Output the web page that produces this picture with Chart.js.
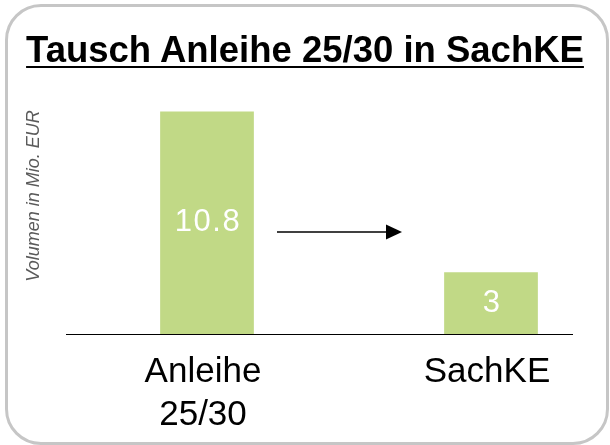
<!DOCTYPE html>
<html lang="de">
<head>
<meta charset="utf-8">
<title>Tausch Anleihe 25/30 in SachKE</title>
<script src="https://cdn.jsdelivr.net/npm/chart.js@4/dist/chart.umd.min.js"></script>
<style>
    html, body {
        margin: 0;
        padding: 0;
        background: #ffffff;
    }
    body {
        position: relative;
        width: 610px;
        height: 445px;
        overflow: hidden;
        font-family: "Liberation Sans", Arial, sans-serif;
    }
    .frame {
        position: absolute;
        left: 5px;
        top: 4px;
        width: 604px;
        height: 441px;
        box-sizing: border-box;
        border: 3px solid #c6c6c6;
        border-radius: 36px;
    }
    .chart-title {
        position: absolute;
        left: 0;
        top: 32px;
        width: 610px;
        text-align: center;
        font-size: 36.5px;
        line-height: 36px;
        font-weight: bold;
        color: #000000;
        text-decoration: underline;
        text-decoration-thickness: 2px;
        text-underline-offset: 4px;
        white-space: nowrap;
    }
    #volumeChart {
        position: absolute;
        left: 0;
        top: 0;
    }
</style>
</head>
<body>
<div class="frame"></div>
<canvas id="volumeChart" width="610" height="445"></canvas>
<div class="chart-title">Tausch Anleihe 25/30 in SachKE</div>

<script>
// ============================================
// Data
// ============================================
var categories = [['Anleihe', '25/30'], 'SachKE'];
var volumes = [10.8, 3];
var axisTitle = 'Volumen in Mio. EUR';

var barColor = '#c1d986';

// ============================================
// Plugins: value labels, baseline, arrow
// ============================================
var valueLabels = {
    id: 'valueLabels',
    afterDatasetsDraw: function(chart) {
        var ctx = chart.ctx;
        var meta = chart.getDatasetMeta(0);
        ctx.save();
        ctx.fillStyle = '#ffffff';
        ctx.font = '31px "Liberation Sans", Arial, sans-serif';
        ctx.letterSpacing = '1.5px';
        ctx.textAlign = 'center';
        ctx.textBaseline = 'middle';
        meta.data.forEach(function(bar, i) {
            var y = (bar.y + bar.base) / 2;
            ctx.fillText(String(volumes[i]), bar.x + 1, y);
        });
        ctx.restore();
    }
};

var baseline = {
    id: 'baseline',
    afterDatasetsDraw: function(chart) {
        var ctx = chart.ctx;
        var area = chart.chartArea;
        var y = Math.round(chart.scales.y.getPixelForValue(0)) + 0.5;
        ctx.save();
        ctx.strokeStyle = '#000000';
        ctx.lineWidth = 1.2;
        ctx.beginPath();
        ctx.moveTo(area.left - 141, y);
        ctx.lineTo(area.right + 82, y);
        ctx.stroke();
        ctx.restore();
    }
};

var arrow = {
    id: 'arrow',
    afterDatasetsDraw: function(chart) {
        var ctx = chart.ctx;
        var area = chart.chartArea;
        var x0 = area.left + 70;
        var x1 = area.left + 195;
        var y = 232;
        ctx.save();
        ctx.strokeStyle = '#000000';
        ctx.fillStyle = '#000000';
        ctx.lineWidth = 1.5;
        ctx.beginPath();
        ctx.moveTo(x0, y);
        ctx.lineTo(x1 - 14, y);
        ctx.stroke();
        ctx.beginPath();
        ctx.moveTo(x1, y);
        ctx.lineTo(x1 - 16, y - 7.5);
        ctx.lineTo(x1 - 16, y + 7.5);
        ctx.closePath();
        ctx.fill();
        ctx.restore();
    }
};

// ============================================
// Chart
// ============================================
new Chart(document.getElementById('volumeChart'), {
    type: 'bar',
    data: {
        labels: categories,
        datasets: [{
            data: volumes,
            backgroundColor: barColor,
            borderWidth: 0,
            categoryPercentage: 1,
            barPercentage: 0.33,
            clip: false
        }]
    },
    options: {
        responsive: false,
        animation: false,
        layout: {
            padding: { left: 7, right: 119, top: 58, bottom: 0 }
        },
        plugins: {
            legend: { display: false },
            tooltip: { enabled: false }
        },
        scales: {
            x: {
                offset: false,
                grid: { display: false },
                border: { display: false },
                ticks: {
                    color: '#000000',
                    padding: 9,
                    labelOffset: -4,
                    maxRotation: 0,
                    autoSkip: false,
                    font: { family: '"Liberation Sans", Arial, sans-serif', size: 35, lineHeight: 1.22 }
                },
                afterFit: function(scale) {
                    scale.height = 111;
                }
            },
            y: {
                min: 0,
                max: 13.4,
                grid: { display: false },
                border: { display: false },
                ticks: { display: false },
                title: {
                    display: true,
                    text: axisTitle,
                    color: '#5a5a5a',
                    padding: { top: 16, bottom: 0 },
                    font: { family: '"Liberation Sans", Arial, sans-serif', size: 18, style: 'italic', lineHeight: 1.2 }
                },
                afterFit: function(scale) {
                    scale.width = 200;
                }
            }
        }
    },
    plugins: [valueLabels, baseline, arrow]
});
</script>
</body>
</html>
